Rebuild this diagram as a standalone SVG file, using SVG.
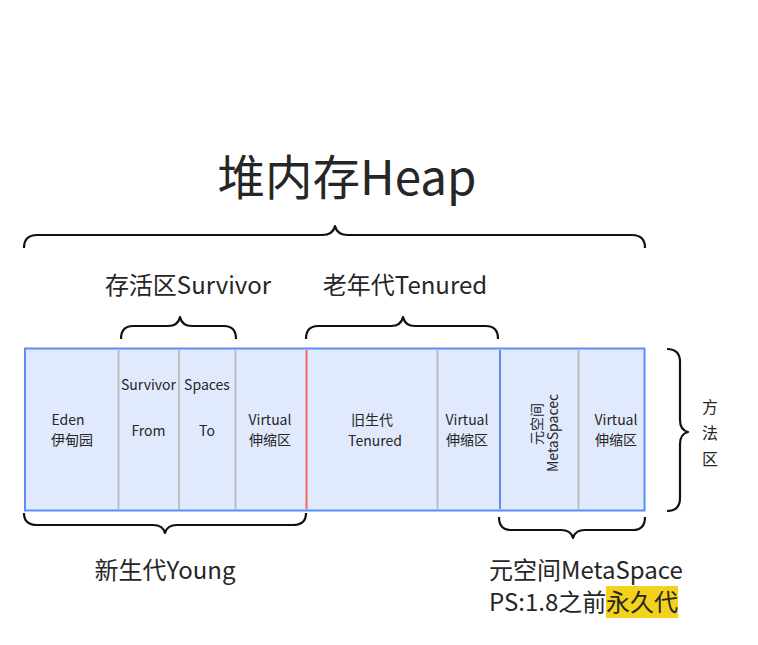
<svg xmlns="http://www.w3.org/2000/svg" width="758" height="645" viewBox="0 0 758 645">
<style>
text{font-family:"Noto Sans CJK SC","Noto Sans",sans-serif;fill:#262626}
.s{font-size:14px;text-anchor:middle}
.m{font-size:24px}
.brace{fill:none;stroke:#111;stroke-width:2.2;stroke-linejoin:round}
.div{stroke:#bdbdbd;stroke-width:2}
</style>
<rect width="758" height="645" fill="#fff"/>
<g id="title"><text x="347" y="195" font-size="47.5" text-anchor="middle">堆内存Heap</text></g>
<g id="connectors">
<path class="brace" d="M24,248 Q24,235 37,235 L322,235 Q333,235 335,226 Q337,235 348,235 L632,235 Q645,235 645,248"/>
<path class="brace" d="M121,339 Q121,326 133,326 L168,326 Q178,326 180,317 Q182,326 192,326 L224,326 Q236,326 236,339"/>
<path class="brace" d="M306,339 Q306,326 318,326 L391,326 Q401,326 403,317 Q405,326 415,326 L486,326 Q498,326 498,339"/>
<path class="brace" d="M24,513 Q24,525 37,525 L153,525 Q163,525 165,533 Q167,525 177,525 L293,525 Q306,525 306,513"/>
<path class="brace" d="M499,517 Q499,530 511,530 L561,530 Q571,530 573,538 Q575,530 585,530 L633,530 Q645,530 645,517"/>
<path class="brace" d="M667,349 Q680,349 680,362 L680,420 Q680,430 688,432 Q680,434 680,444 L680,498 Q680,511 667,511"/>
</g>
<g id="heap">
<rect x="25" y="348.5" width="619.5" height="162" fill="#e1e9fc" stroke="#5b8ef5" stroke-width="2"/>
<line class="div" x1="118.5" y1="350" x2="118.5" y2="509"/>
<line class="div" x1="179" y1="350" x2="179" y2="509"/>
<line class="div" x1="235.5" y1="350" x2="235.5" y2="509"/>
<line x1="306.5" y1="350" x2="306.5" y2="509" stroke="#f0675a" stroke-width="2"/>
<line class="div" x1="437.5" y1="350" x2="437.5" y2="509"/>
<line x1="500" y1="350" x2="500" y2="509" stroke="#5b8ef5" stroke-width="2"/>
<line class="div" x1="578.5" y1="350" x2="578.5" y2="509"/>
</g>
<g id="eden"><text class="s" x="68" y="425">Eden</text><text class="s" x="72" y="445">伊甸园</text></g>
<g id="from"><text class="s" x="148.5" y="390">Survivor</text><text class="s" x="148.5" y="436">From</text></g>
<g id="to"><text class="s" x="207" y="390">Spaces</text><text class="s" x="207" y="436">To</text></g>
<g id="virtual1"><text class="s" x="270" y="425">Virtual</text><text class="s" x="270" y="445">伸缩区</text></g>
<g id="tenured"><text class="s" x="372" y="425">旧生代</text><text class="s" x="375" y="446">Tenured</text></g>
<g id="virtual2"><text class="s" x="467" y="425">Virtual</text><text class="s" x="467" y="445">伸缩区</text></g>
<g id="metaspace"><text class="s" transform="translate(542,424) rotate(-90)">元空间</text><text class="s" transform="translate(558,433) rotate(-90)">MetaSpacec</text></g>
<g id="virtual3"><text class="s" x="616" y="425">Virtual</text><text class="s" x="616" y="445">伸缩区</text></g>
<g id="labels">
<text class="m" x="188" y="294" text-anchor="middle">存活区Survivor</text>
<text class="m" x="405" y="294" text-anchor="middle">老年代Tenured</text>
<text class="m" x="165" y="579" text-anchor="middle">新生代Young</text>
<rect x="606" y="586" width="72" height="32" fill="#f2d21a"/>
<text class="m" x="489" y="579">元空间MetaSpace</text>
<text class="m" x="489" y="611">PS:1.8之前<tspan x="606">永久代</tspan></text>
<text font-size="16" x="710" y="413" text-anchor="middle">方</text>
<text font-size="16" x="710" y="439" text-anchor="middle">法</text>
<text font-size="16" x="710" y="465" text-anchor="middle">区</text>
</g>
</svg>
